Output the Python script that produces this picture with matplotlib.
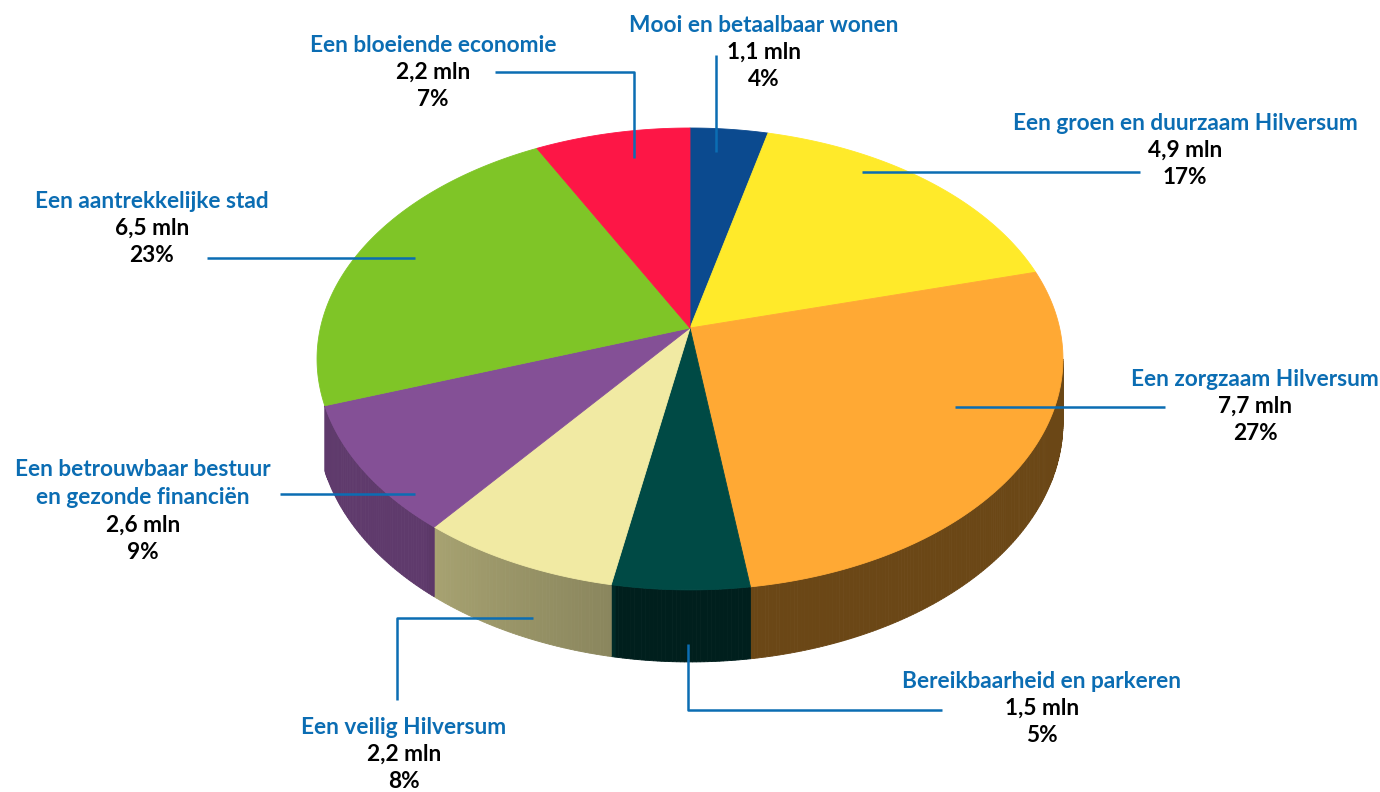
import numpy as np
import matplotlib.pyplot as plt
from matplotlib.patches import Polygon
from matplotlib.colors import to_rgb

# data
names = ['Mooi en betaalbaar wonen', 'Een groen en duurzaam Hilversum',
         'Een zorgzaam Hilversum', 'Bereikbaarheid en parkeren',
         'Een veilig Hilversum', 'Een betrouwbaar bestuur\nen gezonde financiën',
         'Een aantrekkelijke stad', 'Een bloeiende economie']
values = [1.1, 4.9, 7.7, 1.5, 2.2, 2.6, 6.5, 2.2]
percents = [4, 17, 27, 5, 8, 9, 23, 7]
colors = ['#0b4a8f', '#ffea2a', '#ffa934', '#004a45',
          '#f1eaa3', '#845096', '#7fc527', '#fd1646']

# label layout (pixel coords): text centre x, first line y, leader polyline
layout = [
    (764, 25, [(716, 55), (716, 152)]),
    (1185, 123, [(1140, 172), (862, 172)]),
    (1255, 379, [(1165, 407), (955, 407)]),
    (1042, 681, [(942, 710), (688, 710), (688, 644)]),
    (404, 727, [(397, 700), (397, 618), (533, 618)]),
    (143, 470, [(280, 494), (415, 494)]),
    (152, 201, [(207, 258), (415, 258)]),
    (433, 45, [(495, 72), (634, 72), (634, 158)]),
]

blue = '#0b6db3'
font = 'Lato'
fs = 16.3

# pie geometry (simple perspective disc)
cx, cy = 690, 328
A, B, k, H = 369.6, 226.8, 0.134, 62.4

def rim(t):
    w = 1 - k * np.sin(t)
    return cx + A * np.cos(t) / w, cy + B * np.sin(t) / w

def base(t):
    w = 1 - k * np.sin(t)
    return cx + A * np.cos(t) / w, cy + (B * np.sin(t) + H) / w

def shade(t):
    d = np.degrees(t)
    if d <= 100:
        return 0.42
    if d <= 130:
        return 0.57 + 0.13 * (d - 100) / 30
    return 0.72

fig = plt.figure(figsize=(13.8, 7.92), dpi=100)
ax = fig.add_axes([0, 0, 1, 1])
ax.set_xlim(0, 1380)
ax.set_ylim(792, 0)
ax.axis('off')

total = sum(values)
edges = -np.pi / 2 + 2 * np.pi * np.concatenate([[0], np.cumsum(values)]) / total
vis0 = np.arcsin(k)
vis1 = min(np.pi - np.arcsin(k), edges[6])  # side wall hidden behind the green slice

# side walls
for i, c in enumerate(colors):
    a, b = max(edges[i], vis0), min(edges[i + 1], vis1)
    if a >= b:
        continue
    rgb = np.array(to_rgb(c))
    ts = np.linspace(a, b, max(3, int(np.degrees(b - a) * 2)))
    for t0, t1 in zip(ts[:-1], ts[1:]):
        f = shade((t0 + t1) / 2)
        p = [rim(t0), rim(t1), base(t1), base(t0)]
        ax.add_patch(Polygon(p, closed=True, facecolor=rgb * f,
                             edgecolor=rgb * f, lw=0.6))

# top face
for i, c in enumerate(colors):
    ts = np.linspace(edges[i], edges[i + 1], 120)
    xs, ys = rim(ts)
    pts = [(cx, cy)] + list(zip(xs, ys))
    ax.add_patch(Polygon(pts, closed=True, facecolor=c, edgecolor=c, lw=0.6))

# labels and leaders
for name, v, pc, (tx, ty, line) in zip(names, values, percents, layout):
    lx, ly = zip(*line)
    ax.plot(lx, ly, color=blue, lw=1.8, solid_capstyle='butt')
    y = ty
    for ln in name.split('\n'):
        ax.text(tx, y, ln, color=blue, fontsize=fs, fontweight='bold',
                family=font, ha='center', va='center')
        y += 27.5
    ax.text(tx, y, f'{v:.1f}'.replace('.', ',') + ' mln', color='black',
            fontsize=fs, fontweight='bold', family=font, ha='center', va='center')
    ax.text(tx, y + 27.5, f'{pc}%', color='black', fontsize=fs,
            fontweight='bold', family=font, ha='center', va='center')

fig.savefig('out.png', dpi=100)
